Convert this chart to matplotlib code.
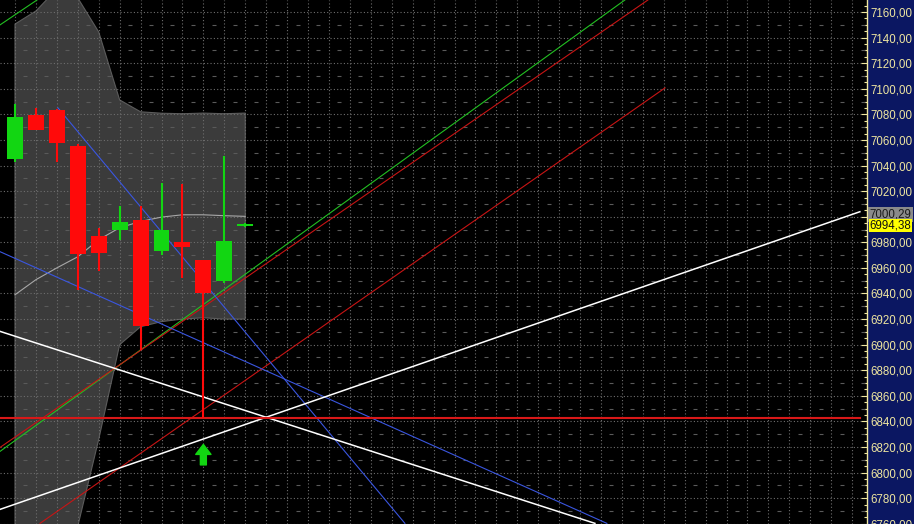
import matplotlib.pyplot as plt
import numpy as np

# ---------------- data ----------------
bars = np.arange(12)
opens = [7045.0, 7079.6, 7083.5, 7055.6, 6985.1, 6989.8, 6997.1, 6973.4, 6979.9, 6966.4, 6949.5, 6992.4]
closes = [7078.3, 7067.9, 7058.0, 6971.0, 6972.0, 6995.5, 6914.3, 6989.8, 6976.0, 6940.4, 6981.2, 6994.38]
highs = [7088.2, 7084.8, 7084.0, 7056.7, 6991.2, 7008.6, 7008.6, 7026.7, 7025.5, 6966.4, 7047.8, 6995.0]
lows = [7043.1, 7067.9, 7043.1, 6943.0, 6957.3, 6982.0, 6896.0, 6969.8, 6952.1, 6842.8, 6948.4, 6992.0]

band_upper = [7150.6, 7160.8, 7178.0, 7171.0, 7144.4, 7091.3, 7082.0, 7080.9, 7080.5, 7081.0, 7080.5, 7081.0]
band_lower = [6700.0, 6715.0, 6735.0, 6758.0, 6826.0, 6900.0, 6914.0, 6918.0, 6920.0, 6921.0, 6920.0, 6920.0]
sma = [6939.0, 6950.8, 6960.0, 6968.7, 6982.0, 6991.4, 6996.3, 6999.7, 7001.5, 7001.5, 7000.8, 7000.29]

# trend lines: two anchor points each (bar index, price)
line_x0 = [-0.72, -0.72, -0.72, 1.195, -0.72, 2.05, -0.72, -0.72, -0.72]
line_v0 = [6816.5, 7149.9, 6819.6, 6760.3, 6972.7, 7085.1, 6910.4, 6771.2, 6842.5]
line_x1 = [29.14, 1.05, 30.24, 31.06, 28.28, 18.63, 27.71, 40.37, 40.37]
line_v1 = [7169.4, 7169.4, 7169.4, 7100.7, 6760.3, 6760.3, 6760.3, 7003.9, 6842.5]
line_col = ['#22c022', '#22c022', '#c81414', '#c81414', '#3a56e0', '#3a56e0', '#ffffff', '#ffffff', '#d81818']
line_lw = [0.8, 0.8, 0.8, 0.8, 0.8, 0.8, 1.1, 1.1, 1.5]

arrow_bar = 9
arrow_tip = 6822.0
arrow_base = 6806.0

sma_last = 7000.29
last_close = 6994.38

ymin, ymax = 6759.8, 7169.4
xmin, xmax = -0.717, 40.71

# ---------------- colours ----------------
navy = '#0b1762'
axis_yellow = '#efe6a0'
up_col = '#12d612'
down_col = '#ff0a0a'
grid_col = '#6e6e6e'

fig = plt.figure(figsize=(9.14, 5.24), dpi=100, facecolor=navy)
ax = fig.add_axes([0, 0, 867 / 914, 1])
ax.set_facecolor('black')
ax.set_xlim(xmin, xmax)
ax.set_ylim(ymin, ymax)
ax.set_axisbelow(True)

# grid
ax.set_xticks(np.arange(0, 41))
ax.set_yticks(np.arange(6760, 7161, 20))
ax.set_yticks(np.arange(6760, 7170, 5), minor=True)
ax.grid(True, which='major', color=grid_col, linestyle=(0, (1, 2)), linewidth=0.8)
gx, gy = np.meshgrid(np.arange(0, 41) + 0.5, np.arange(6770, 7170, 20))
ax.scatter(gx.ravel(), gy.ravel(), marker='_', s=6, color='#5a5a5a', linewidths=0.8, zorder=0.6)

# bollinger-like band and mid line
ax.fill_between(bars, band_lower, band_upper, color='#3b3b3b', edgecolor='#5c5c5c', linewidth=0.8, zorder=0.3)
ax.plot(bars, sma, color='#a8a8a8', linewidth=0.8, zorder=2)

# trend lines
for x0, v0, x1, v1, c, lw in zip(line_x0, line_v0, line_x1, line_v1, line_col, line_lw):
    ax.plot([x0, x1], [v0, v1], color=c, linewidth=lw, zorder=3)

# candles
colors = [up_col if c >= o else down_col for o, c in zip(opens, closes)]
ax.vlines(bars, lows, highs, colors=colors, linewidth=1.5, zorder=4)
body_low = np.minimum(opens, closes)
body_h = np.maximum(np.abs(np.array(closes) - np.array(opens)), 1.2)
ax.bar(bars, body_h, bottom=body_low, width=0.76, color=colors, zorder=5)

# buy arrow
ax.annotate('', xy=(arrow_bar, arrow_tip), xytext=(arrow_bar, arrow_base),
            arrowprops=dict(arrowstyle='simple,head_length=7.2,head_width=11,tail_width=4.3',
                            mutation_scale=1, color=up_col, shrinkA=0, shrinkB=0), zorder=6)

# axis styling
for s in ['top', 'bottom', 'left']:
    ax.spines[s].set_visible(False)
ax.spines['right'].set_color(axis_yellow)
ax.spines['right'].set_linewidth(1.0)
ax.tick_params(axis='x', length=0, labelbottom=False)
ax.yaxis.tick_right()
ax.tick_params(axis='y', which='major', direction='in', length=4, width=0.8, color=axis_yellow,
               labelcolor=axis_yellow, labelsize=8.3, pad=2.5)
ax.tick_params(axis='y', which='minor', direction='in', length=2, width=0.8, color=axis_yellow)
ax.set_yticklabels([f'{v:.2f}'.replace('.', ',') for v in np.arange(6760, 7161, 20)],
                   family='Liberation Sans')

# price boxes on the scale
tr = ax.get_yaxis_transform()
ax.text(1.003, sma_last + 1.5, f'{sma_last:.2f}'.replace('.', ','), transform=tr, va='center', ha='left',
        fontsize=8.3, family='Liberation Sans', color='#1a1a1a', clip_on=False,
        bbox=dict(boxstyle='square,pad=0.12', fc='#8a8a8a', ec='none'), zorder=7)
ax.text(1.003, last_close - 1.5, f'{last_close:.2f}'.replace('.', ','), transform=tr, va='center', ha='left',
        fontsize=8.3, family='Liberation Sans', color='#111111', clip_on=False,
        bbox=dict(boxstyle='square,pad=0.04', fc='#ffff00', ec='none'), zorder=8)

fig.savefig('out.png', dpi=100, facecolor=navy)
